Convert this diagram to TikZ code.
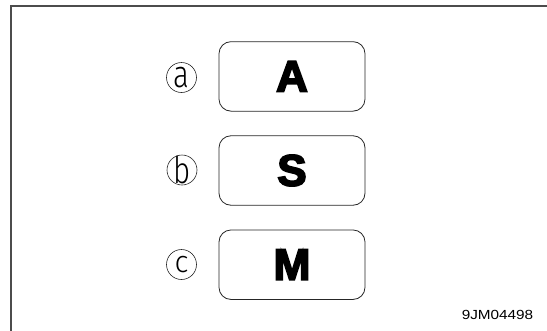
\documentclass[tikz,border=0pt]{standalone}
\usepackage{fontspec}
\setmainfont{Liberation Sans}
\newfontfamily\heavy{Liberation Sans Bold}[FakeBold=4]
\newfontfamily\lightfont{Fira Sans Light}
\newcommand{\keyfont}{\heavy\fontsize{44}{44}\selectfont}
\newcommand{\tagletter}[2]{\scalebox{1.55}[#1]{\lightfont\fontsize{19}{19}\selectfont #2}}
\begin{document}
\begin{tikzpicture}[x=1pt,y=-1pt,
  frame/.style={line width=2pt, draw=black!70},
  key/.style={draw=black!85, line width=0.8pt, rounded corners=12pt,
    minimum width=146pt, minimum height=69.5pt, inner sep=0pt},
  tag/.style={draw=black!85, circle, line width=0.6pt, minimum size=30pt, inner sep=0pt},
  code/.style={inner sep=0pt, font=\fontsize{13.2}{13.2}\selectfont}
]
\useasboundingbox (0,0) rectangle (547,330);
\coordinate (fb) at (11,332);
\coordinate (fc) at (11,6);
\coordinate (fr) at (549,6);
\draw[frame] (fb) -- (fc) -- (fr);

\node[key] (ka) at (292,76.4) {\keyfont A};
\node[key] (ks) at (292,170.5) {\keyfont S};
\node[key] (km) at (292,264.7) {\keyfont M};

\node[tag, label={[inner sep=0pt]center:\tagletter{2.0}{a}}] (ta) at (181.5,77.5) {};
\node[tag, label={[inner sep=0pt]center:\tagletter{1.95}{b}}] (tb) at (182,170) {};
\node[tag, label={[inner sep=0pt]center:\tagletter{1.6}{c}}] (tc) at (181.5,264.5) {};

\node[code] (id) at (497.5,314.7) {\scalebox{1.16}[1]{9JM04498}};
\end{tikzpicture}
\end{document}
